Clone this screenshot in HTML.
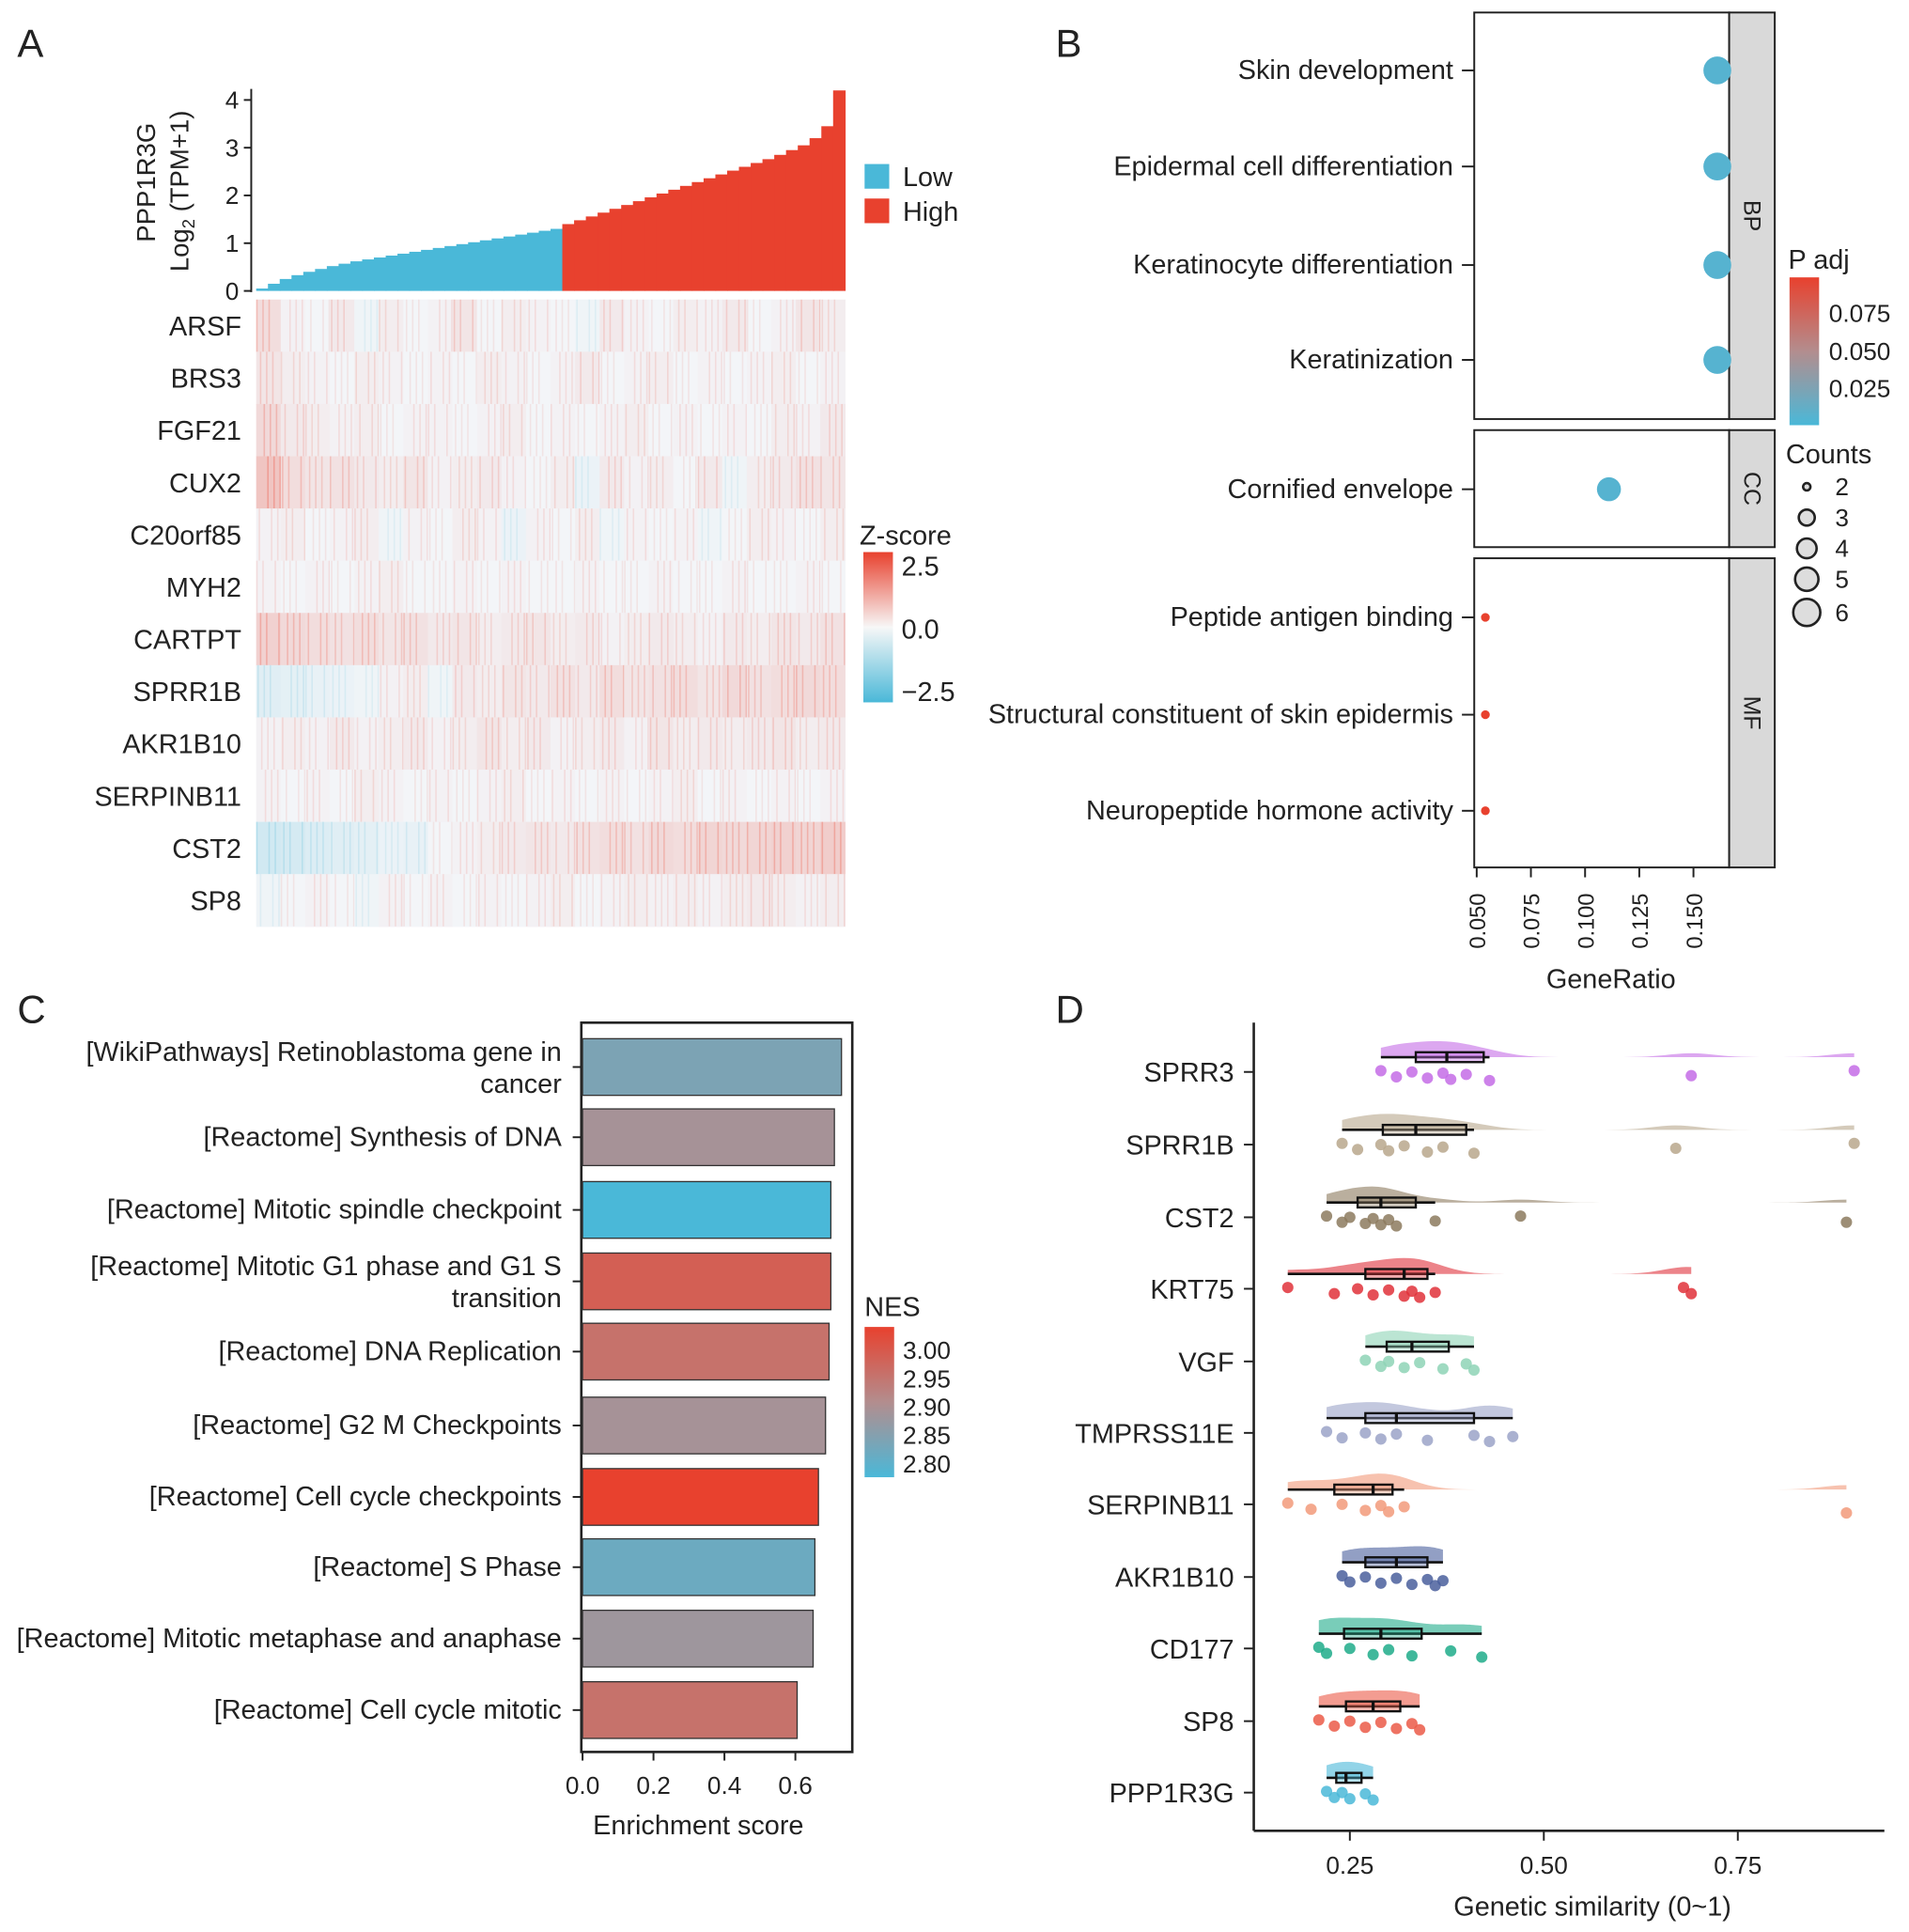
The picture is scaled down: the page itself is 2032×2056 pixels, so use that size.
<!DOCTYPE html>
<html><head><meta charset="utf-8">
<style>
html,body{margin:0;padding:0;background:#fff}
svg{display:block}
text{font-family:"Liberation Sans",Arial,sans-serif;fill:#222}
</style></head>
<body>
<svg id="fig" xmlns="http://www.w3.org/2000/svg" width="2032" height="2056" viewBox="0 0 1550 1568">
<defs>
<linearGradient id="zg" x1="0" y1="0" x2="0" y2="1"><stop offset="0" stop-color="#e8412e"/><stop offset="0.5" stop-color="#f7f7f7"/><stop offset="1" stop-color="#4ab8d8"/></linearGradient>
<linearGradient id="pg" x1="0" y1="0" x2="0" y2="1"><stop offset="0" stop-color="#e8412e"/><stop offset="0.5" stop-color="#b38d8e"/><stop offset="1" stop-color="#4ab8d8"/></linearGradient>
</defs>
<text x="14" y="46" font-size="32">A</text>
<text x="857" y="46" font-size="32">B</text>
<text x="14" y="830" font-size="32">C</text>
<text x="857" y="830" font-size="32">D</text>
</svg>
<script>
var exprQuantiles=[0.05,0.15,0.25,0.33,0.4,0.46,0.52,0.57,0.62,0.66,0.7,0.74,0.78,0.82,0.86,0.9,0.94,0.98,1.02,1.06,1.1,1.14,1.18,1.22,1.26,1.3,1.4,1.48,1.56,1.64,1.72,1.8,1.88,1.96,2.04,2.12,2.2,2.28,2.36,2.44,2.52,2.6,2.68,2.76,2.85,2.95,3.05,3.2,3.45,4.2];
var lowCut=1.33;
var heatGenes=["ARSF","BRS3","FGF21","CUX2","C20orf85","MYH2","CARTPT","SPRR1B","AKR1B10","SERPINB11","CST2","SP8"];
var heatRows=[
[0.6,0.1,0.0,0.3,-0.1,0.2,0.0,0.1,0.4,0.0,0.2,0.1,0.0,-0.1,0.3,0.1,0.0,0.2,0.1,0.3,0.0,0.1,0.4,0.2],
[0.4,0.2,0.1,0.0,0.2,0.1,0.0,0.1,0.0,0.2,0.1,0.0,0.1,0.3,0.0,0.1,0.2,0.0,0.1,0.0,0.1,0.2,0.0,0.1],
[0.7,0.3,0.2,0.1,0.2,0.0,0.1,0.1,0.0,0.1,0.2,0.0,0.1,0.0,0.1,0.2,0.0,0.1,0.0,0.1,0.0,0.2,0.1,0.3],
[1.2,0.6,0.4,0.5,0.3,0.2,0.4,0.1,0.2,0.3,0.1,0.0,0.2,-0.2,0.3,0.1,0.2,0.0,0.3,-0.1,0.2,0.3,0.5,0.4],
[0.1,0.2,0.0,0.1,0.2,-0.1,0.1,0.0,0.2,0.1,-0.2,0.1,0.0,0.2,-0.1,0.1,0.0,0.1,-0.1,0.0,0.2,0.1,0.0,0.2],
[0.1,0.0,0.1,0.0,0.1,0.2,0.0,0.0,0.1,0.0,0.1,0.0,0.0,0.1,0.0,0.0,0.1,0.0,0.0,0.1,0.0,0.0,0.1,0.0],
[0.9,0.7,0.6,0.5,0.6,0.4,0.5,0.3,0.4,0.2,0.3,0.4,0.2,0.3,0.1,0.2,0.3,0.2,0.1,0.3,0.2,0.4,0.3,0.5],
[-0.5,-0.4,-0.3,-0.2,-0.1,0.1,0.2,-0.1,0.3,0.2,0.4,0.3,0.5,0.3,0.6,0.4,0.5,0.6,0.4,0.7,0.5,0.6,0.7,0.6],
[0.1,0.2,0.1,0.3,0.1,0.2,0.3,0.1,0.2,0.4,0.2,0.3,0.1,0.2,0.3,0.1,0.4,0.2,0.3,0.2,0.3,0.4,0.2,0.3],
[0.1,0.0,0.1,0.0,0.2,0.1,0.0,0.1,0.0,0.1,0.2,0.0,0.1,0.0,0.1,0.0,0.1,0.2,0.0,0.1,0.0,0.1,0.0,0.1],
[-0.9,-0.8,-0.6,-0.5,-0.4,-0.2,-0.3,0.0,0.1,0.2,0.3,0.4,0.3,0.5,0.6,0.5,0.7,0.6,0.8,0.7,0.8,0.9,0.8,1.0],
[-0.1,0.0,0.1,0.0,-0.1,0.1,0.0,0.1,0.0,0.1,0.0,0.1,0.2,0.0,0.1,0.2,0.1,0.2,0.1,0.2,0.3,0.2,0.1,0.2]];
var goTerms=["Skin development","Epidermal cell differentiation","Keratinocyte differentiation","Keratinization","Cornified envelope","Peptide antigen binding","Structural constituent of skin epidermis","Neuropeptide hormone activity"];
var goRatio=[0.161,0.161,0.161,0.161,0.111,0.054,0.054,0.054];
var goCount=[6,6,6,6,5,1,1,1];
var goPadj=[0.005,0.005,0.005,0.005,0.005,0.09,0.09,0.09];
var goRatioTicks=[0.05,0.075,0.1,0.125,0.15];
var gseaTerms=[["[WikiPathways] Retinoblastoma gene in","cancer"],["[Reactome] Synthesis of DNA"],["[Reactome] Mitotic spindle checkpoint"],["[Reactome] Mitotic G1 phase and G1 S","transition"],["[Reactome] DNA Replication"],["[Reactome] G2 M Checkpoints"],["[Reactome] Cell cycle checkpoints"],["[Reactome] S Phase"],["[Reactome] Mitotic metaphase and anaphase"],["[Reactome] Cell cycle mitotic"]];
var gseaES=[0.73,0.71,0.70,0.70,0.695,0.685,0.665,0.655,0.65,0.605];
var gseaNES=[2.84,2.89,2.78,2.98,2.95,2.89,3.03,2.82,2.88,2.95];
var gseaTicks=[0,0.2,0.4,0.6];
var simGenes=["SPRR3","SPRR1B","CST2","KRT75","VGF","TMPRSS11E","SERPINB11","AKR1B10","CD177","SP8","PPP1R3G"];
var simVals=[
[0.29,0.31,0.33,0.35,0.37,0.38,0.40,0.43,0.69,0.90],
[0.24,0.26,0.29,0.30,0.32,0.35,0.37,0.41,0.67,0.90],
[0.22,0.24,0.25,0.27,0.28,0.29,0.30,0.31,0.36,0.47,0.89],
[0.17,0.23,0.26,0.28,0.30,0.32,0.33,0.34,0.36,0.68,0.69],
[0.27,0.29,0.30,0.32,0.34,0.37,0.40,0.41],
[0.22,0.24,0.27,0.29,0.31,0.35,0.41,0.43,0.46],
[0.17,0.20,0.24,0.27,0.29,0.30,0.32,0.89],
[0.24,0.25,0.27,0.29,0.31,0.33,0.35,0.36,0.37],
[0.21,0.22,0.25,0.28,0.30,0.33,0.38,0.42],
[0.21,0.23,0.25,0.27,0.29,0.31,0.33,0.34],
[0.22,0.23,0.24,0.25,0.27,0.28]];
var simColors=["#c46ce6","#b8a78c","#8c7a5e","#e0313a","#8ed3b6","#9ba3c8","#f29a7a","#4a5f9c","#1fab8a","#eb5a48","#4ab8d8"];
var simTicks=[0.25,0.5,0.75];

var ROOT=document.getElementById('fig');
var SVGNS="http://www.w3.org/2000/svg";
var FS=22;
function mk(tag,attrs,parent,txt){
  var e=document.createElementNS(SVGNS,tag);
  for(var k in attrs){e.setAttribute(k,String(attrs[k]));}
  if(txt!==undefined&&txt!==null){e.textContent=String(txt);}
  (parent||ROOT).appendChild(e);
  return e;
}
function hex2(a){return [parseInt(a.slice(1,3),16),parseInt(a.slice(3,5),16),parseInt(a.slice(5,7),16)];}
function mixCol(a,b,t){var A=hex2(a),B=hex2(b);return "rgb("+Math.round(A[0]+(B[0]-A[0])*t)+","+Math.round(A[1]+(B[1]-A[1])*t)+","+Math.round(A[2]+(B[2]-A[2])*t)+")";}
function rbScale(t){t=Math.max(0,Math.min(1,t));return t<0.5?mixCol("#4ab8d8","#b38d8e",t*2):mixCol("#b38d8e","#e8412e",(t-0.5)*2);}
function quant(a,p){var s=a.slice().sort(function(x,y){return x-y;});var i=(s.length-1)*p,l=Math.floor(i);var h=Math.min(l+1,s.length-1);return s[l]+(s[h]-s[l])*(i-l);}
function showErr(e){var t=mk('text',{x:10,y:1560,"font-size":10,fill:"#c00"},ROOT,String(e));}

function panelA(){
  var ax0=208,ax1=686;
  function ay(v){return 236-v*38.75;}
  var g=mk('g',{});
  
  
  var bw=(ax1-ax0)/exprQuantiles.length;
  for(var i=0;i<exprQuantiles.length;i++){
    var v=exprQuantiles[i];
    var r=mk('rect',{x:ax0+i*bw,y:ay(v),width:bw+0.6,height:236-ay(v),fill:v<lowCut?"#4ab8d8":"#e8412e"},g);
    
    
  }
  mk('line',{x1:204,y1:72,x2:204,y2:237,stroke:"#222","stroke-width":1.5},g);
  for(var k=0;k<=4;k++){
    mk('line',{x1:198,y1:ay(k),x2:204,y2:ay(k),stroke:"#222","stroke-width":1.5},g);
    var tl=mk('text',{x:194,y:ay(k)+7,"font-size":20,"text-anchor":"end"},g,k);
    
    
  }
  var yt=mk('text',{transform:"translate(126,148) rotate(-90)","font-size":21,"text-anchor":"middle"},g,"PPP1R3G");
  
  
  var yt2=mk('text',{transform:"translate(153,155) rotate(-90)","font-size":21,"text-anchor":"middle"},g);
  
  
  mk('tspan',{},yt2,"Log");
  mk('tspan',{"font-size":14,dy:5},yt2,"2");
  mk('tspan',{dy:-5},yt2," (TPM+1)");
  var legs=[["Low","#4ab8d8",133],["High","#e8412e",161]];
  for(var j=0;j<legs.length;j++){
    var sw=mk('rect',{x:702,y:legs[j][2],width:20,height:20,fill:legs[j][1]});
    
    
    var lt=mk('text',{x:733,y:legs[j][2]+18,"font-size":FS},ROOT,legs[j][0]);
    
    
  }
  var hg=mk('g',{});
  
  
  var hy0=243,rh=42.4;
  for(var r2=0;r2<heatGenes.length;r2++){
    var row=heatRows[r2],cw=(ax1-ax0)/row.length;
    for(var c=0;c<row.length;c++){
      var z=row[c],t=Math.max(-1,Math.min(1,z/4.5));
      var col=t>=0?mixCol("#f3f5f8","#e8412e",t):mixCol("#f3f5f8","#4ab8d8",-t);
      var cell=mk('rect',{x:ax0+c*cw,y:hy0+r2*rh,width:cw+0.5,height:rh+0.5,fill:col},hg);
      
      
      for(var s=0;s<3;s++){
        var xx=ax0+c*cw+((c*7+s*5+r2*3)%20)/20*cw;
        mk('rect',{x:xx,y:hy0+r2*rh,width:1.2,height:rh,fill:z>=0?"#ee7f72":"#8fd0e4",opacity:Math.min(0.7,0.15+Math.abs(z)*0.35)},hg);
      }
    }
    var gl=mk('text',{x:196,y:hy0+r2*rh+rh/2+8,"font-size":FS,"text-anchor":"end"},ROOT,heatGenes[r2]);
    
    
  }
  var zt=mk('text',{x:698,y:442,"font-size":FS},ROOT,"Z-score");
  
  
  var zb=mk('rect',{x:701,y:448,width:24,height:122,fill:"url(#zg)"});
  
  
  var zs=[["2.5",467],["0.0",518],["\u22122.5",569]];
  for(var q=0;q<zs.length;q++){
    var zl=mk('text',{x:732,y:zs[q][1],"font-size":FS},ROOT,zs[q][0]);
    
    
  }
}

function panelB(){
  function bx(v){return 1199+(v-0.05)*1760;}
  var goY=[57,135,215,292,397,501,580,658];
  var facets=[["BP",10,340],["CC",349,444],["MF",453,704]];
  for(var f=0;f<facets.length;f++){
    var y0=facets[f][1],y1=facets[f][2];
    var p=mk('rect',{x:1197,y:y0,width:207,height:y1-y0,fill:"#fff",stroke:"#222","stroke-width":1.5});
    
    
    var st=mk('rect',{x:1404,y:y0,width:37,height:y1-y0,fill:"#d9d9d9",stroke:"#222","stroke-width":1.5});
    
    
    var fl=mk('text',{transform:"translate(1416,"+((y0+y1)/2)+") rotate(90)","font-size":19,"text-anchor":"middle"},ROOT,facets[f][0]);
    
    
  }
  for(var i=0;i<goTerms.length;i++){
    mk('line',{x1:1187,y1:goY[i],x2:1197,y2:goY[i],stroke:"#222","stroke-width":1.5});
    var tl=mk('text',{x:1180,y:goY[i]+7,"font-size":FS,"text-anchor":"end"},ROOT,goTerms[i]);
    
    
    var dot=mk('circle',{cx:bx(goRatio[i]),cy:goY[i],r:2+goCount[i]*1.55,fill:rbScale(goPadj[i]/0.09)});
    
    
  }
  for(var k=0;k<goRatioTicks.length;k++){
    var v=goRatioTicks[k];
    mk('line',{x1:bx(v),y1:704,x2:bx(v),y2:712,stroke:"#222","stroke-width":1.5});
    var xl=mk('text',{transform:"translate("+(bx(v)+7)+",770) rotate(-90)","font-size":18},ROOT,v.toFixed(3));
    
    
  }
  var gx=mk('text',{x:1308,y:802,"font-size":FS,"text-anchor":"middle"},ROOT,"GeneRatio");
  
  
  var pt=mk('text',{x:1452,y:218,"font-size":FS},ROOT,"P adj");
  
  
  var pbar=mk('rect',{x:1453,y:225,width:24,height:120,fill:"url(#pg)"});
  
  
  var ps=[["0.075",261],["0.050",292],["0.025",322]];
  for(var a=0;a<ps.length;a++){
    var pl=mk('text',{x:1485,y:ps[a][1],"font-size":20},ROOT,ps[a][0]);
    
    
  }
  var ct=mk('text',{x:1450,y:376,"font-size":FS},ROOT,"Counts");
  
  
  var cs=[[2,395,3],[3,420,6.5],[4,445,8],[5,470,9.5],[6,497,11]];
  for(var b=0;b<cs.length;b++){
    var cd=mk('circle',{cx:1467,cy:cs[b][1],r:cs[b][2],fill:"#ddd",stroke:"#222","stroke-width":2});
    
    
    var cl=mk('text',{x:1490,y:cs[b][1]+7,"font-size":20},ROOT,cs[b][0]);
    
    
  }
}

function panelC(){
  function cxs(v){return 473+v*288;}
  var cY=[866,923,982,1040,1097,1157,1215,1272,1330,1388];
  var cf=mk('rect',{x:472,y:830,width:220,height:592,fill:"none",stroke:"#222","stroke-width":2});
  
  
  for(var i=0;i<gseaES.length;i++){
    var t=(gseaNES[i]-2.78)/(3.03-2.78);
    var bar=mk('rect',{x:cxs(0),y:cY[i]-23,width:cxs(gseaES[i])-cxs(0),height:46,fill:rbScale(t),stroke:"#333","stroke-width":1});
    
    
    mk('line',{x1:465,y1:cY[i],x2:472,y2:cY[i],stroke:"#222","stroke-width":1.5});
    var lines=gseaTerms[i];
    for(var k=0;k<lines.length;k++){
      var yy=cY[i]+7+(lines.length===2?(k===0?-12:14):0);
      var pl=mk('text',{x:456,y:yy,"font-size":FS,"text-anchor":"end"},ROOT,lines[k]);
      
      
    }
  }
  for(var j=0;j<gseaTicks.length;j++){
    var v=gseaTicks[j];
    mk('line',{x1:cxs(v),y1:1422,x2:cxs(v),y2:1429,stroke:"#222","stroke-width":1.5});
    var xl=mk('text',{x:cxs(v),y:1456,"font-size":20,"text-anchor":"middle"},ROOT,v.toFixed(1));
    
    
  }
  var ex=mk('text',{x:567,y:1489,"font-size":FS,"text-anchor":"middle"},ROOT,"Enrichment score");
  
  
  var nt=mk('text',{x:702,y:1068,"font-size":FS},ROOT,"NES");
  
  
  var nb=mk('rect',{x:702,y:1077,width:24,height:122,fill:"url(#pg)"});
  
  
  var ns=[["3.00",1103],["2.95",1126],["2.90",1149],["2.85",1172],["2.80",1195]];
  for(var a=0;a<ns.length;a++){
    var nl=mk('text',{x:733,y:ns[a][1],"font-size":20},ROOT,ns[a][0]);
    
    
  }
}

function panelD(){
  function dx(v){return 1096+(v-0.25)*630;}
  var dY=[870,929,988,1046,1105,1163,1221,1280,1338,1397,1455];
  mk('line',{x1:1018,y1:830,x2:1018,y2:1486,stroke:"#222","stroke-width":2});
  mk('line',{x1:1018,y1:1486,x2:1530,y2:1486,stroke:"#222","stroke-width":2});
  for(var i=0;i<simGenes.length;i++){
    var vals=simVals[i],col=simColors[i],y=dY[i];
    var gg=mk('g',{});
    
    
    var lo=Math.min.apply(null,vals),hi=Math.max.apply(null,vals),bwk=0.03,mx=0,dens=[];
    for(var k=0;k<=80;k++){
      var vv=lo+(hi-lo)*k/80,d=0;
      for(var u=0;u<vals.length;u++){var zz=(vv-vals[u])/bwk;d+=Math.exp(-zz*zz/2);}
      dens.push([vv,d]);if(d>mx)mx=d;
    }
    var path="M"+dx(lo)+","+(y-12);
    for(var m=0;m<dens.length;m++){path+=" L"+dx(dens[m][0])+","+(y-12-dens[m][1]/mx*13);}
    path+=" L"+dx(hi)+","+(y-12)+" Z";
    var vp=mk('path',{d:path,fill:col,opacity:0.6},gg);
    
    
    var q1=quant(vals,0.25),q3=quant(vals,0.75),md=quant(vals,0.5),iqr=q3-q1;
    var wl=Math.max(lo,q1-1.5*iqr),wh=Math.min(hi,q3+1.5*iqr);
    var inl=vals.filter(function(v){return v>=wl&&v<=wh;});
    mk('line',{x1:dx(Math.min.apply(null,inl)),y1:y-12,x2:dx(Math.max.apply(null,inl)),y2:y-12,stroke:"#111","stroke-width":2},gg);
    var bxr=mk('rect',{x:dx(q1),y:y-16,width:dx(q3)-dx(q1),height:8,fill:col,"fill-opacity":0.4,stroke:"#111","stroke-width":1.8},gg);
    
    
    mk('line',{x1:dx(md),y1:y-16,x2:dx(md),y2:y-8,stroke:"#111","stroke-width":2.5},gg);
    for(var p=0;p<vals.length;p++){
      var pc=mk('circle',{cx:dx(vals[p]),cy:y-1+((p*5)%9),r:4.6,fill:col,opacity:0.85},gg);
      
      
    }
    mk('line',{x1:1010,y1:y,x2:1018,y2:y,stroke:"#222","stroke-width":1.5});
    var gl=mk('text',{x:1002,y:y+8,"font-size":FS,"text-anchor":"end"},ROOT,simGenes[i]);
    
    
  }
  for(var j=0;j<simTicks.length;j++){
    var v=simTicks[j];
    mk('line',{x1:dx(v),y1:1486,x2:dx(v),y2:1494,stroke:"#222","stroke-width":1.5});
    var xl=mk('text',{x:dx(v),y:1521,"font-size":20,"text-anchor":"middle"},ROOT,v.toFixed(2));
    
    
  }
  var sx=mk('text',{x:1293,y:1555,"font-size":FS,"text-anchor":"middle"},ROOT,"Genetic similarity (0~1)");
  
  
}

function drawAll(){
  try{panelA();}catch(e){showErr(e);}
  try{panelB();}catch(e){showErr(e);}
  try{panelC();}catch(e){showErr(e);}
  try{panelD();}catch(e){showErr(e);}
}
drawAll();
</script>
</body></html>
